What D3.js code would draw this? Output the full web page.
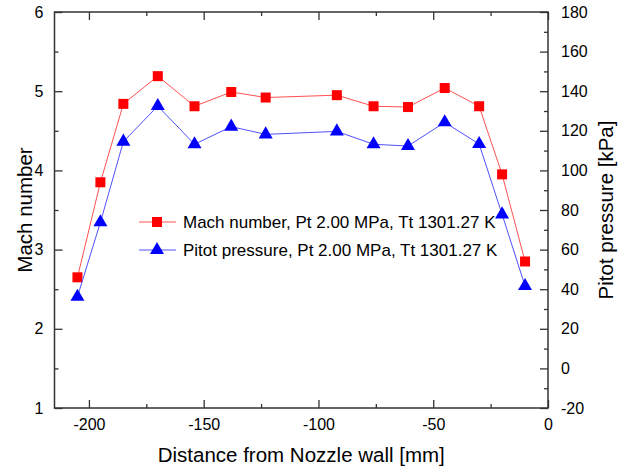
<!DOCTYPE html>
<html>
<head>
<meta charset="utf-8">
<script src="https://cdn.jsdelivr.net/npm/d3@7"></script>
<style>
  body { margin: 0; background: #fff; }
  text { font-family: "Liberation Sans", Arial, sans-serif; fill: #000; }
</style>
</head>
<body>
<div id="chart"></div>
<script>
// distance from nozzle wall [mm]
const distance = [-205, -195, -185, -170, -154, -138, -123, -92, -76, -61, -45, -30, -20, -10];
// Mach number, Pt 2.00 MPa, Tt 1301.27 K
const mach = [2.65, 3.85, 4.84, 5.19, 4.81, 4.99, 4.92, 4.95, 4.81, 4.80, 5.04, 4.81, 3.95, 2.85];
// Pitot pressure [kPa]
const pitot = [36.2, 73.8, 114.5, 132.5, 113.2, 122.1, 118.2, 119.7, 113.2, 112.3, 124.3, 113.3, 77.8, 41.6];

const xTicks = [-200, -150, -100, -50, 0];
const machTicks = [1, 2, 3, 4, 5, 6];
const pitotTicks = [-20, 0, 20, 40, 60, 80, 100, 120, 140, 160, 180];

const legendLabels = [
  "Mach number, Pt 2.00 MPa, Tt 1301.27 K",
  "Pitot pressure, Pt 2.00 MPa, Tt 1301.27 K"
];

const W = 622, H = 473;
const pL = 54.5, pR = 548, pT = 12, pB = 408;

const svg = d3.select("#chart").append("svg")
  .attr("width", W)
  .attr("height", H);

svg.append("rect").attr("width", W).attr("height", H).attr("fill", "white");

const x = d3.scaleLinear().domain([-215, 0]).range([pL, pR]);
const yL = d3.scaleLinear().domain([1, 6]).range([pB, pT]);
const yR = d3.scaleLinear().domain([-20, 180]).range([pB, pT]);

const axisColor = "#333";
const fmt = d => String(d); // plain hyphen like the original

function styleAxis(g) {
  g.select(".domain").remove();
  g.selectAll("line").attr("stroke", axisColor).attr("stroke-width", 1.3);
  g.selectAll("text").style("font-size", "16px").attr("fill", "#000");
}

const xMinor = d3.range(-175, 0, 50);
const machMinor = d3.range(1.5, 6, 1);
const pitotMinor = d3.range(-10, 180, 20);

// bottom
svg.append("g").attr("transform", `translate(0,${pB})`)
  .call(d3.axisBottom(x).tickValues(xTicks).tickSize(-8).tickPadding(11).tickFormat(fmt))
  .call(styleAxis);
svg.append("g").attr("transform", `translate(0,${pB})`)
  .call(d3.axisBottom(x).tickValues(xMinor).tickSize(-4).tickFormat(""))
  .call(styleAxis);
// top
svg.append("g").attr("transform", `translate(0,${pT})`)
  .call(d3.axisTop(x).tickValues(xTicks).tickSize(-8).tickFormat(""))
  .call(styleAxis);
svg.append("g").attr("transform", `translate(0,${pT})`)
  .call(d3.axisTop(x).tickValues(xMinor).tickSize(-4).tickFormat(""))
  .call(styleAxis);
// left
svg.append("g").attr("transform", `translate(${pL},0)`)
  .call(d3.axisLeft(yL).tickValues(machTicks).tickSize(-8).tickPadding(11).tickFormat(fmt))
  .call(styleAxis);
svg.append("g").attr("transform", `translate(${pL},0)`)
  .call(d3.axisLeft(yL).tickValues(machMinor).tickSize(-4).tickFormat(""))
  .call(styleAxis);
// right
svg.append("g").attr("transform", `translate(${pR},0)`)
  .call(d3.axisRight(yR).tickValues(pitotTicks).tickSize(-8).tickPadding(13).tickFormat(fmt))
  .call(styleAxis);
svg.append("g").attr("transform", `translate(${pR},0)`)
  .call(d3.axisRight(yR).tickValues(pitotMinor).tickSize(-4).tickFormat(""))
  .call(styleAxis);

// frame
svg.append("rect")
  .attr("x", pL).attr("y", pT)
  .attr("width", pR - pL).attr("height", pB - pT)
  .attr("fill", "none").attr("stroke", axisColor).attr("stroke-width", 1.5);

// axis titles
svg.append("text")
  .attr("x", (pL + pR) / 2).attr("y", 462)
  .attr("text-anchor", "middle").style("font-size", "20.5px")
  .text("Distance from Nozzle wall [mm]");
svg.append("text")
  .attr("transform", `translate(32,${(pT + pB) / 2}) rotate(-90)`)
  .attr("text-anchor", "middle").style("font-size", "20.5px")
  .text("Mach number");
svg.append("text")
  .attr("transform", `translate(613,${(pT + pB) / 2}) rotate(-90)`)
  .attr("text-anchor", "middle").style("font-size", "20.5px")
  .text("Pitot pressure [kPa]");

const red = "#ff0000", blue = "#0000ff";
const tri = d3.symbol().type(d3.symbolTriangle).size(85);

// Mach series
svg.append("path")
  .datum(distance.map((d, i) => [d, mach[i]]))
  .attr("fill", "none").attr("stroke", "#ff5050").attr("stroke-width", 1)
  .attr("d", d3.line().x(d => x(d[0])).y(d => yL(d[1])));
svg.selectAll(".sq").data(distance.map((d, i) => [d, mach[i]]))
  .join("rect").attr("class", "sq")
  .attr("x", d => x(d[0]) - 5).attr("y", d => yL(d[1]) - 5)
  .attr("width", 10).attr("height", 10).attr("fill", red);

// Pitot series
svg.append("path")
  .datum(distance.map((d, i) => [d, pitot[i]]))
  .attr("fill", "none").attr("stroke", "#5050ff").attr("stroke-width", 1)
  .attr("d", d3.line().x(d => x(d[0])).y(d => yR(d[1])));
svg.selectAll(".tri").data(distance.map((d, i) => [d, pitot[i]]))
  .join("path").attr("class", "tri")
  .attr("transform", d => `translate(${x(d[0])},${yR(d[1])})`)
  .attr("d", tri).attr("fill", blue);

// legend
const lg = svg.append("g").attr("transform", "translate(139,222)");
legendLabels.forEach((lab, i) => {
  const g = lg.append("g").attr("transform", `translate(0,${i * 28})`);
  g.append("line").attr("x1", 0).attr("x2", 37).attr("y1", 0).attr("y2", 0)
    .attr("stroke", i === 0 ? "#ff5050" : "#5050ff").attr("stroke-width", 1);
  if (i === 0) {
    g.append("rect").attr("x", 13).attr("y", -5).attr("width", 10).attr("height", 10).attr("fill", red);
  } else {
    g.append("path").attr("transform", "translate(18,0)").attr("d", tri).attr("fill", blue);
  }
  g.append("text").attr("x", 44).attr("y", 6).style("font-size", "17px").text(lab);
});
</script>
</body>
</html>
